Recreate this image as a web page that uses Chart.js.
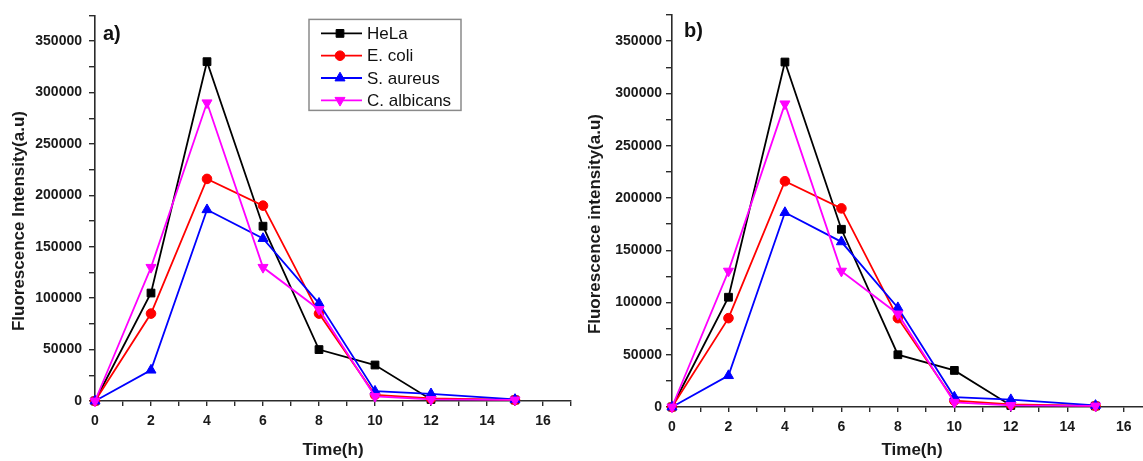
<!DOCTYPE html>
<html>
<head>
<meta charset="utf-8">
<script src="https://cdn.jsdelivr.net/npm/chart.js@4.4.0/dist/chart.umd.min.js"></script>
<style>
  html, body { margin: 0; padding: 0; background: #fff; overflow: hidden; width: 1143px; height: 461px; }
  .panel { position: absolute; top: 0; height: 461px; }
  #wrapA { left: 0; width: 580px; }
  #wrapB { left: 580px; width: 600px; }
</style>
</head>
<body>
<div class="panel" id="wrapA"><canvas id="chartA" width="580" height="461"></canvas></div>
<div class="panel" id="wrapB"><canvas id="chartB" width="600" height="461"></canvas></div>
<script>
// Time points (h)
const times = [0, 2, 4, 6, 8, 10, 12, 15];

// Fluorescence intensity (a.u) per organism
const hela       = [0, 105000, 330000, 170000, 50000, 35000, 1500, 1000];
const ecoli      = [0,  85000, 216000, 190000, 85000,  6000, 2500, 1000];
const saureus    = [0,  30000, 186000, 158000, 95000,  9500, 7000, 1500];
const calbicans  = [0, 130000, 290000, 130000, 89000,  4500, 1500, 1000];

const seriesNames = ['HeLa', 'E. coli', 'S. aureus', 'C. albicans'];

const FONT = '"Liberation Sans", Arial, sans-serif';
const AXIS = '#2b2b2b';

function toPoints(vals) {
    return times.map((t, i) => ({ x: t, y: vals[i] }));
}

function makeDatasets() {
    return [
        { label: seriesNames[0], data: toPoints(hela), borderColor: '#000000', backgroundColor: '#000000',
          pointStyle: 'rect', pointRadius: 5.5, pointRotation: 0, order: 4 },
        { label: seriesNames[1], data: toPoints(ecoli), borderColor: '#ff0000', backgroundColor: '#ff0000',
          pointStyle: 'circle', pointRadius: 4.8, pointRotation: 0, order: 3 },
        { label: seriesNames[2], data: toPoints(saureus), borderColor: '#0000ff', backgroundColor: '#0000ff',
          pointStyle: 'triangle', pointRadius: 5.8, pointRotation: 0, order: 2 },
        { label: seriesNames[3], data: toPoints(calbicans), borderColor: '#ff00ff', backgroundColor: '#ff00ff',
          pointStyle: 'triangle', pointRadius: 5.8, pointRotation: 180, order: 1 }
    ].map(ds => Object.assign(ds, {
        borderWidth: 1.8,
        pointBorderWidth: 1,
        pointHoverRadius: ds.pointRadius,
        tension: 0,
        clip: false
    }));
}

// panel letter, y-axis title and boxed legend drawn on top of the plot
const panelDecor = {
    id: 'panelDecor',
    afterDraw(chart, args, opts) {
        const ctx = chart.ctx;
        const area = chart.chartArea;
        const yScale = chart.scales.y;
        ctx.save();
        ctx.fillStyle = '#111';
        ctx.font = 'bold 20px ' + FONT;
        ctx.textBaseline = 'middle';
        ctx.textAlign = 'left';
        ctx.fillText(opts.letter, area.left + opts.letterX, area.top + opts.letterY);

        // y title centred on the labelled span 0 .. 350000
        const yMid = (yScale.getPixelForValue(0) + yScale.getPixelForValue(350000)) / 2;
        ctx.save();
        ctx.translate(opts.yTitleX, yMid);
        ctx.rotate(-Math.PI / 2);
        ctx.textAlign = 'center';
        ctx.font = 'bold 17px ' + FONT;
        ctx.fillStyle = '#1a1a1a';
        ctx.fillText(opts.yTitle, 0, 0);
        ctx.restore();

        if (opts.legend) {
            const bx = area.left + opts.legend.x;
            const by = area.top + opts.legend.y;
            ctx.strokeStyle = '#8a8a8a';
            ctx.lineWidth = 1.5;
            ctx.strokeRect(bx, by, opts.legend.w, opts.legend.h);
            ctx.font = '17px ' + FONT;
            chart.data.datasets.forEach((ds, i) => {
                const y = by + 14 + i * 22.3;
                ctx.strokeStyle = ds.borderColor;
                ctx.lineWidth = 1.8;
                ctx.beginPath();
                ctx.moveTo(bx + 12, y);
                ctx.lineTo(bx + 53, y);
                ctx.stroke();
                ctx.fillStyle = ds.backgroundColor;
                ctx.lineWidth = 1;
                Chart.helpers.drawPoint(ctx, {
                    pointStyle: ds.pointStyle,
                    radius: ds.pointRadius,
                    rotation: ds.pointRotation,
                    borderWidth: 1
                }, bx + 31, y);
                ctx.fillStyle = '#111';
                ctx.fillText(ds.label, bx + 58, y + 1);
            });
        }
        ctx.restore();
    }
};

function makeChart(canvasId, cfg) {
    return new Chart(document.getElementById(canvasId), {
        type: 'line',
        data: { datasets: makeDatasets() },
        plugins: [panelDecor],
        options: {
            responsive: false,
            animation: false,
            events: [],
            layout: { padding: { top: 15, right: cfg.padRight, left: 0, bottom: 0 } },
            plugins: {
                legend: { display: false },
                tooltip: { enabled: false },
                panelDecor: cfg.decor
            },
            scales: {
                x: {
                    type: 'linear',
                    min: 0,
                    max: 17,
                    border: { color: AXIS, width: 1.6 },
                    grid: { drawOnChartArea: false, tickLength: 5, color: AXIS, lineWidth: 1.4 },
                    ticks: {
                        stepSize: 1,
                        autoSkip: false,
                        maxRotation: 0,
                        padding: 7,
                        color: '#1a1a1a',
                        font: { family: FONT, size: 14, weight: 'bold' },
                        callback: v => (v % 2 === 0 ? String(v) : '')
                    },
                    title: {
                        display: true,
                        text: 'Time(h)',
                        color: '#1a1a1a',
                        font: { family: FONT, size: 17, weight: 'bold' },
                        padding: { top: 0, bottom: 0 }
                    },
                    afterFit(scale) { scale.height = cfg.xHeight; }
                },
                y: {
                    min: 0,
                    max: 375000,
                    border: { color: AXIS, width: 1.6 },
                    grid: { drawOnChartArea: false, tickLength: 6, color: AXIS, lineWidth: 1.4 },
                    ticks: {
                        stepSize: 25000,
                        autoSkip: false,
                        padding: cfg.yTickPad,
                        color: '#1a1a1a',
                        font: { family: FONT, size: 14, weight: 'bold' },
                        callback: v => (v % 50000 === 0 ? String(v) : '')
                    },
                    afterFit(scale) { scale.width = cfg.yWidth; }
                }
            }
        }
    });
}

makeChart('chartA', {
    yWidth: 95,
    xHeight: 60,
    padRight: 9,
    yTickPad: 7,
    decor: {
        letter: 'a)',
        letterX: 8,
        letterY: 19,
        yTitle: 'Fluorescence Intensity(a.u)',
        yTitleX: 19,
        legend: { x: 214, y: 4, w: 152, h: 91 }
    }
});

makeChart('chartB', {
    yWidth: 92,
    xHeight: 54,
    padRight: 28,
    yTickPad: 4,
    decor: {
        letter: 'b)',
        letterX: 12,
        letterY: 16,
        yTitle: 'Fluorescence intensity(a.u)',
        yTitleX: 15,
        legend: null
    }
});
</script>
</body>
</html>
